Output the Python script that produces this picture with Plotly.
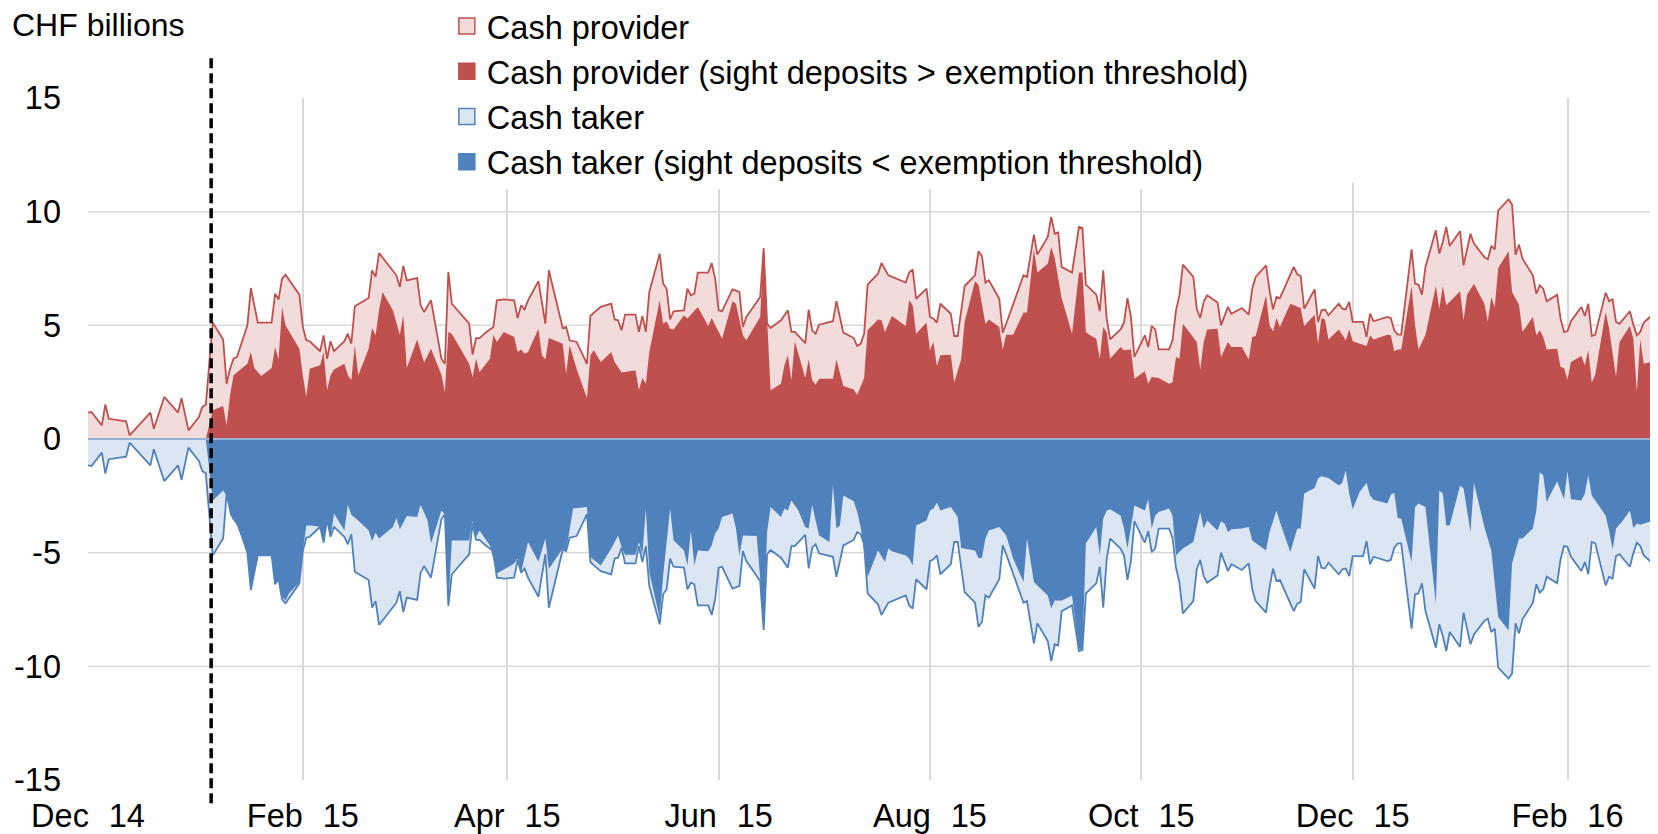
import plotly.graph_objects as go

# Repo volume traded (CHF billions); cash taken mirrors cash provided
provider_dates = [
    "2014-12-01", "2014-12-02", "2014-12-05", "2014-12-06", "2014-12-07", "2014-12-12", "2014-12-13",
    "2014-12-19", "2014-12-20", "2014-12-23", "2014-12-27", "2014-12-28", "2014-12-30", "2015-01-02",
    "2015-01-03", "2015-01-04", "2015-01-06", "2015-01-09", "2015-01-10", "2015-01-11", "2015-01-12",
    "2015-01-13", "2015-01-16", "2015-01-17", "2015-01-19", "2015-01-23", "2015-01-24", "2015-01-25",
    "2015-01-26", "2015-01-27", "2015-01-31", "2015-02-01", "2015-02-02", "2015-02-03", "2015-02-06",
    "2015-02-07", "2015-02-08", "2015-02-09", "2015-02-10", "2015-02-13", "2015-02-14", "2015-02-15",
    "2015-02-16", "2015-02-20", "2015-02-21", "2015-02-22", "2015-02-23", "2015-02-28", "2015-03-01",
    "2015-03-02", "2015-03-03", "2015-03-06", "2015-03-07", "2015-03-08", "2015-03-10", "2015-03-13",
    "2015-03-14", "2015-03-15", "2015-03-16", "2015-03-21", "2015-03-22", "2015-03-23", "2015-03-24",
    "2015-03-26", "2015-03-28", "2015-03-29", "2015-03-31", "2015-04-03", "2015-04-04", "2015-04-05",
    "2015-04-06", "2015-04-07", "2015-04-10", "2015-04-11", "2015-04-12", "2015-04-13", "2015-04-17",
    "2015-04-18", "2015-04-19", "2015-04-21", "2015-04-24", "2015-04-25", "2015-04-26", "2015-04-28",
    "2015-05-01", "2015-05-02", "2015-05-03", "2015-05-04", "2015-05-05", "2015-05-08", "2015-05-09",
    "2015-05-10", "2015-05-11", "2015-05-12", "2015-05-15", "2015-05-16", "2015-05-17", "2015-05-18",
    "2015-05-19", "2015-05-22", "2015-05-23", "2015-05-24", "2015-05-25", "2015-05-26", "2015-05-29",
    "2015-05-30", "2015-05-31", "2015-06-01", "2015-06-02", "2015-06-05", "2015-06-07", "2015-06-08",
    "2015-06-09", "2015-06-13", "2015-06-14", "2015-06-15", "2015-06-16", "2015-06-19", "2015-06-21",
    "2015-06-22", "2015-06-23", "2015-06-26", "2015-06-27", "2015-06-28", "2015-06-29", "2015-06-30",
    "2015-07-04", "2015-07-05", "2015-07-07", "2015-07-10", "2015-07-11", "2015-07-12", "2015-07-13",
    "2015-07-14", "2015-07-17", "2015-07-18", "2015-07-20", "2015-07-25", "2015-07-26", "2015-07-27",
    "2015-07-28", "2015-07-31", "2015-08-01", "2015-08-02", "2015-08-03", "2015-08-04", "2015-08-07",
    "2015-08-08", "2015-08-09", "2015-08-11", "2015-08-14", "2015-08-15", "2015-08-16", "2015-08-17",
    "2015-08-18", "2015-08-21", "2015-08-22", "2015-08-23", "2015-08-28", "2015-08-29", "2015-08-31",
    "2015-09-01", "2015-09-04", "2015-09-05", "2015-09-06", "2015-09-07", "2015-09-08", "2015-09-11",
    "2015-09-13", "2015-09-14", "2015-09-15", "2015-09-18", "2015-09-19", "2015-09-20", "2015-09-21",
    "2015-09-22", "2015-09-25", "2015-09-26", "2015-09-27", "2015-09-28", "2015-09-29", "2015-10-02",
    "2015-10-03", "2015-10-04", "2015-10-05", "2015-10-06", "2015-10-09", "2015-10-10", "2015-10-11",
    "2015-10-12", "2015-10-13", "2015-10-16", "2015-10-17", "2015-10-18", "2015-10-19", "2015-10-20",
    "2015-10-23", "2015-10-24", "2015-10-26", "2015-10-27", "2015-10-30", "2015-11-01", "2015-11-02",
    "2015-11-03", "2015-11-06", "2015-11-07", "2015-11-08", "2015-11-09", "2015-11-10", "2015-11-14",
    "2015-11-15", "2015-11-16", "2015-11-17", "2015-11-20", "2015-11-21", "2015-11-22", "2015-11-23",
    "2015-11-24", "2015-11-27", "2015-11-28", "2015-11-29", "2015-11-30", "2015-12-01", "2015-12-04",
    "2015-12-05", "2015-12-06", "2015-12-07", "2015-12-11", "2015-12-12", "2015-12-13", "2015-12-14",
    "2015-12-15", "2015-12-18", "2015-12-19", "2015-12-20", "2015-12-21", "2015-12-22", "2015-12-25",
    "2015-12-26", "2015-12-27", "2015-12-28", "2015-12-29", "2016-01-01", "2016-01-02", "2016-01-04",
    "2016-01-05", "2016-01-08", "2016-01-09", "2016-01-10", "2016-01-11", "2016-01-12", "2016-01-15",
    "2016-01-16", "2016-01-17", "2016-01-18", "2016-01-19", "2016-01-22", "2016-01-23", "2016-01-24",
    "2016-01-25", "2016-01-26", "2016-01-29", "2016-01-30", "2016-01-31", "2016-02-01", "2016-02-02",
    "2016-02-05", "2016-02-06", "2016-02-07", "2016-02-08", "2016-02-09", "2016-02-12", "2016-02-13",
    "2016-02-14", "2016-02-15", "2016-02-16", "2016-02-19", "2016-02-20", "2016-02-21", "2016-02-22",
    "2016-02-23", "2016-02-27",
]
provider_total = [
    1.16, 1.19, 0.60, 1.52, 0.89, 0.78, 0.16,
    1.16, 0.45, 1.85, 1.16, 1.80, 0.38, 0.97,
    1.41, 1.51, 5.12, 4.38, 2.43, 3.09, 3.53,
    3.61, 5.00, 6.64, 5.12, 5.12, 6.39, 6.14,
    7.05, 7.23, 6.35, 4.93, 4.34, 4.30, 3.86,
    4.56, 3.53, 4.30, 3.86, 4.30, 4.63, 4.19,
    5.84, 6.20, 7.42, 7.13, 8.18, 7.20, 6.69,
    7.61, 6.98, 7.08, 5.88, 5.59, 6.10, 3.53,
    3.31, 7.35, 5.95, 5.07, 3.71, 4.44, 4.44,
    4.71, 4.93, 6.10, 6.14, 6.10, 5.32, 5.88,
    5.70, 6.10, 6.94, 5.95, 5.07, 7.42, 4.88,
    4.93, 4.34, 4.27, 3.31, 5.41, 5.56, 5.81,
    5.95, 5.26, 5.22, 4.78, 5.47, 5.47, 4.71,
    5.41, 4.71, 6.47, 8.15, 6.83, 6.61, 5.26,
    5.62, 5.66, 6.61, 6.32, 6.39, 7.32, 7.32,
    7.74, 7.05, 5.66, 5.62, 6.58, 6.47, 4.93,
    5.37, 6.25, 8.40, 5.07, 4.88, 5.22, 5.66,
    4.71, 4.71, 4.22, 5.69, 4.78, 4.63, 5.03,
    5.18, 6.06, 4.68, 4.44, 4.09, 4.19, 4.63,
    6.79, 7.27, 7.74, 7.20, 6.88, 7.32, 7.46,
    6.17, 6.61, 5.37, 5.29, 5.12, 5.95, 5.51,
    4.53, 4.53, 6.73, 7.20, 8.26, 8.05, 6.88,
    6.98, 6.17, 4.68, 5.07, 7.20, 7.13, 8.99,
    8.11, 8.89, 9.77, 9.03, 9.08, 7.57, 7.32,
    9.33, 9.28, 6.79, 6.35, 5.62, 7.42, 5.29,
    4.38, 4.82, 5.12, 6.20, 5.37, 3.61, 4.56,
    4.05, 4.97, 4.82, 3.94, 3.94, 4.34, 5.66,
    6.32, 7.67, 7.13, 5.73, 5.32, 6.03, 6.32,
    6.00, 5.00, 5.81, 5.51, 5.76, 5.47, 6.61,
    7.13, 7.64, 6.54, 5.70, 6.25, 6.20, 7.57,
    7.24, 7.17, 5.73, 6.58, 5.15, 5.66, 5.70,
    5.44, 5.95, 5.73, 5.70, 6.03, 5.15, 5.15,
    4.49, 5.51, 5.18, 5.37, 5.32, 4.78, 4.59,
    4.59, 8.34, 6.83, 6.79, 6.35, 7.57, 9.18,
    8.15, 8.67, 9.33, 8.49, 9.15, 7.64, 9.03,
    8.60, 8.00, 7.90, 8.49, 8.34, 10.06, 10.54,
    10.31, 8.11, 8.55, 7.93, 7.20, 6.39, 6.76,
    6.61, 6.06, 6.35, 5.29, 4.71, 4.74, 5.18,
    5.81, 5.41, 5.95, 4.53, 4.59, 6.44, 6.06,
    6.14, 5.15, 5.07, 5.62, 5.03, 4.56, 4.71,
    5.12, 5.66,
]
taker_total = [-v for v in provider_total]

# Cash provider with sight deposits above the exemption threshold
above_dates = [
    "2015-01-04", "2015-01-06", "2015-01-09", "2015-01-10", "2015-01-11", "2015-01-12", "2015-01-16",
    "2015-01-17", "2015-01-18", "2015-01-20", "2015-01-23", "2015-01-24", "2015-01-25", "2015-01-26",
    "2015-01-27", "2015-01-31", "2015-02-01", "2015-02-02", "2015-02-03", "2015-02-06", "2015-02-07",
    "2015-02-08", "2015-02-09", "2015-02-10", "2015-02-13", "2015-02-14", "2015-02-15", "2015-02-16",
    "2015-02-17", "2015-02-20", "2015-02-21", "2015-02-22", "2015-02-23", "2015-02-24", "2015-02-27",
    "2015-03-01", "2015-03-02", "2015-03-03", "2015-03-06", "2015-03-08", "2015-03-10", "2015-03-13",
    "2015-03-14", "2015-03-15", "2015-03-16", "2015-03-21", "2015-03-22", "2015-03-23", "2015-03-24",
    "2015-03-27", "2015-03-28", "2015-03-29", "2015-03-31", "2015-04-03", "2015-04-04", "2015-04-05",
    "2015-04-06", "2015-04-07", "2015-04-10", "2015-04-11", "2015-04-12", "2015-04-13", "2015-04-17",
    "2015-04-18", "2015-04-19", "2015-04-21", "2015-04-24", "2015-04-25", "2015-04-26", "2015-04-28",
    "2015-05-01", "2015-05-02", "2015-05-04", "2015-05-08", "2015-05-09", "2015-05-10", "2015-05-11",
    "2015-05-12", "2015-05-15", "2015-05-16", "2015-05-17", "2015-05-18", "2015-05-19", "2015-05-22",
    "2015-05-23", "2015-05-25", "2015-05-26", "2015-05-29", "2015-05-30", "2015-06-02", "2015-06-05",
    "2015-06-06", "2015-06-08", "2015-06-09", "2015-06-13", "2015-06-14", "2015-06-16", "2015-06-19",
    "2015-06-20", "2015-06-21", "2015-06-22", "2015-06-23", "2015-06-26", "2015-06-27", "2015-06-28",
    "2015-06-29", "2015-06-30", "2015-07-04", "2015-07-05", "2015-07-07", "2015-07-10", "2015-07-11",
    "2015-07-13", "2015-07-14", "2015-07-17", "2015-07-18", "2015-07-19", "2015-07-21", "2015-07-25",
    "2015-07-26", "2015-07-27", "2015-07-28", "2015-07-31", "2015-08-01", "2015-08-02", "2015-08-03",
    "2015-08-04", "2015-08-07", "2015-08-08", "2015-08-10", "2015-08-11", "2015-08-14", "2015-08-15",
    "2015-08-17", "2015-08-18", "2015-08-21", "2015-08-22", "2015-08-23", "2015-08-25", "2015-08-28",
    "2015-08-29", "2015-08-31", "2015-09-01", "2015-09-04", "2015-09-05", "2015-09-06", "2015-09-08",
    "2015-09-11", "2015-09-13", "2015-09-14", "2015-09-15", "2015-09-16", "2015-09-18", "2015-09-19",
    "2015-09-20", "2015-09-21", "2015-09-22", "2015-09-25", "2015-09-26", "2015-09-28", "2015-09-29",
    "2015-10-02", "2015-10-03", "2015-10-04", "2015-10-06", "2015-10-09", "2015-10-10", "2015-10-11",
    "2015-10-12", "2015-10-13", "2015-10-17", "2015-10-18", "2015-10-19", "2015-10-20", "2015-10-23",
    "2015-10-24", "2015-10-26", "2015-10-27", "2015-10-30", "2015-11-01", "2015-11-02", "2015-11-03",
    "2015-11-06", "2015-11-07", "2015-11-08", "2015-11-09", "2015-11-10", "2015-11-13", "2015-11-14",
    "2015-11-16", "2015-11-17", "2015-11-20", "2015-11-21", "2015-11-22", "2015-11-23", "2015-11-24",
    "2015-11-27", "2015-11-28", "2015-11-29", "2015-11-30", "2015-12-01", "2015-12-05", "2015-12-06",
    "2015-12-07", "2015-12-11", "2015-12-12", "2015-12-13", "2015-12-14", "2015-12-15", "2015-12-18",
    "2015-12-19", "2015-12-20", "2015-12-22", "2015-12-25", "2015-12-26", "2015-12-27", "2015-12-28",
    "2016-01-01", "2016-01-02", "2016-01-03", "2016-01-05", "2016-01-08", "2016-01-09", "2016-01-10",
    "2016-01-11", "2016-01-12", "2016-01-15", "2016-01-16", "2016-01-18", "2016-01-19", "2016-01-22",
    "2016-01-23", "2016-01-24", "2016-01-25", "2016-01-26", "2016-01-29", "2016-01-30", "2016-01-31",
    "2016-02-01", "2016-02-02", "2016-02-05", "2016-02-06", "2016-02-07", "2016-02-08", "2016-02-09",
    "2016-02-12", "2016-02-13", "2016-02-15", "2016-02-16", "2016-02-19", "2016-02-20", "2016-02-21",
    "2016-02-22", "2016-02-23", "2016-02-27",
]
provider_above = [
    0.00, 1.26, 1.45, 0.60, 1.92, 2.80, 3.31,
    3.83, 3.12, 2.77, 3.12, 4.05, 3.50, 5.81,
    5.00, 3.97, 2.80, 1.85, 3.09, 3.24, 3.83,
    2.14, 2.80, 3.06, 3.31, 2.80, 2.58, 4.12,
    2.80, 3.97, 4.88, 4.56, 5.66, 6.47, 5.66,
    4.59, 5.44, 3.12, 4.38, 3.36, 3.97, 2.83,
    2.07, 4.71, 4.63, 3.31, 2.73, 3.53, 2.95,
    3.53, 4.59, 4.27, 4.71, 4.49, 3.83, 3.94,
    3.75, 3.83, 4.85, 3.68, 3.50, 4.44, 4.19,
    2.87, 4.12, 3.09, 1.80, 3.68, 3.90, 3.39,
    3.83, 3.39, 2.92, 3.02, 2.14, 2.68, 2.43,
    3.83, 6.10, 5.07, 5.18, 4.85, 4.82, 5.44,
    5.30, 5.66, 5.81, 4.97, 5.32, 4.41, 6.06,
    5.95, 4.56, 4.34, 5.37, 8.37, 2.14, 2.43,
    3.24, 3.68, 2.58, 4.30, 2.68, 3.50, 2.58,
    2.39, 2.65, 2.65, 3.50, 2.33, 2.18, 1.95,
    2.68, 4.78, 5.26, 5.22, 4.71, 5.41, 4.97,
    6.10, 5.88, 4.63, 5.12, 3.90, 4.27, 3.21,
    3.68, 3.71, 2.48, 3.50, 5.15, 6.94, 6.79,
    5.07, 5.26, 4.93, 3.94, 4.59, 4.59, 5.56,
    5.56, 8.34, 7.32, 7.71, 8.45, 7.96, 6.20,
    4.63, 7.32, 7.32, 4.71, 4.59, 4.41, 3.53,
    4.93, 4.68, 3.53, 4.05, 3.90, 3.94, 2.65,
    2.98, 2.43, 2.73, 2.68, 2.43, 2.48, 3.61,
    3.53, 5.07, 4.27, 3.06, 4.27, 4.82, 4.85,
    3.61, 4.27, 4.05, 4.05, 3.50, 4.49, 4.53,
    6.32, 5.00, 4.74, 5.32, 4.93, 5.95, 5.88,
    5.76, 4.97, 5.47, 4.19, 5.32, 5.26, 4.38,
    4.82, 4.56, 4.34, 4.82, 4.30, 4.09, 4.56,
    4.38, 4.59, 4.56, 3.86, 3.94, 3.94, 6.73,
    5.00, 3.94, 4.59, 6.73, 5.73, 6.73, 5.88,
    6.50, 5.22, 6.35, 6.83, 5.95, 5.18, 6.25,
    5.81, 7.52, 8.26, 6.47, 5.91, 4.71, 5.37,
    4.56, 4.78, 4.49, 3.94, 3.97, 3.17, 3.12,
    2.62, 3.39, 3.65, 3.24, 3.90, 2.48, 2.83,
    5.59, 4.85, 2.73, 4.27, 4.97, 4.41, 2.07,
    4.38, 3.31, 3.46,
]

# Cash taker with sight deposits below the exemption threshold
below_dates = [
    "2015-01-04", "2015-01-06", "2015-01-09", "2015-01-10", "2015-01-11", "2015-01-13", "2015-01-16",
    "2015-01-17", "2015-01-19", "2015-01-23", "2015-01-24", "2015-01-25", "2015-01-26", "2015-01-27",
    "2015-01-28", "2015-01-31", "2015-02-01", "2015-02-02", "2015-02-03", "2015-02-06", "2015-02-07",
    "2015-02-08", "2015-02-09", "2015-02-10", "2015-02-13", "2015-02-14", "2015-02-15", "2015-02-17",
    "2015-02-20", "2015-02-21", "2015-02-22", "2015-02-23", "2015-02-27", "2015-02-28", "2015-03-01",
    "2015-03-03", "2015-03-06", "2015-03-07", "2015-03-09", "2015-03-10", "2015-03-13", "2015-03-14",
    "2015-03-15", "2015-03-16", "2015-03-21", "2015-03-22", "2015-03-23", "2015-03-24", "2015-03-27",
    "2015-03-29", "2015-04-03", "2015-04-04", "2015-04-05", "2015-04-07", "2015-04-10", "2015-04-12",
    "2015-04-13", "2015-04-17", "2015-04-18", "2015-04-19", "2015-04-20", "2015-04-24", "2015-04-25",
    "2015-04-28", "2015-05-01", "2015-05-03", "2015-05-04", "2015-05-05", "2015-05-08", "2015-05-09",
    "2015-05-10", "2015-05-11", "2015-05-12", "2015-05-15", "2015-05-16", "2015-05-18", "2015-05-19",
    "2015-05-21", "2015-05-22", "2015-05-23", "2015-05-24", "2015-05-25", "2015-05-26", "2015-05-29",
    "2015-05-30", "2015-05-31", "2015-06-01", "2015-06-02", "2015-06-05", "2015-06-06", "2015-06-07",
    "2015-06-08", "2015-06-12", "2015-06-13", "2015-06-14", "2015-06-15", "2015-06-16", "2015-06-19",
    "2015-06-20", "2015-06-21", "2015-06-22", "2015-06-24", "2015-06-26", "2015-06-27", "2015-06-28",
    "2015-06-29", "2015-06-30", "2015-07-03", "2015-07-04", "2015-07-05", "2015-07-06", "2015-07-07",
    "2015-07-10", "2015-07-11", "2015-07-12", "2015-07-14", "2015-07-17", "2015-07-19", "2015-07-20",
    "2015-07-21", "2015-07-25", "2015-07-26", "2015-07-27", "2015-07-28", "2015-07-31", "2015-08-01",
    "2015-08-02", "2015-08-03", "2015-08-04", "2015-08-07", "2015-08-09", "2015-08-10", "2015-08-14",
    "2015-08-15", "2015-08-16", "2015-08-17", "2015-08-18", "2015-08-21", "2015-08-23", "2015-08-25",
    "2015-08-28", "2015-08-29", "2015-08-31", "2015-09-01", "2015-09-04", "2015-09-05", "2015-09-06",
    "2015-09-08", "2015-09-11", "2015-09-13", "2015-09-14", "2015-09-15", "2015-09-18", "2015-09-19",
    "2015-09-20", "2015-09-21", "2015-09-22", "2015-09-25", "2015-09-26", "2015-09-27", "2015-09-29",
    "2015-10-02", "2015-10-03", "2015-10-04", "2015-10-05", "2015-10-06", "2015-10-09", "2015-10-10",
    "2015-10-11", "2015-10-13", "2015-10-16", "2015-10-18", "2015-10-19", "2015-10-20", "2015-10-23",
    "2015-10-24", "2015-10-25", "2015-10-26", "2015-10-27", "2015-10-30", "2015-11-01", "2015-11-02",
    "2015-11-06", "2015-11-07", "2015-11-09", "2015-11-10", "2015-11-13", "2015-11-15", "2015-11-16",
    "2015-11-17", "2015-11-20", "2015-11-21", "2015-11-22", "2015-11-24", "2015-11-27", "2015-11-28",
    "2015-11-29", "2015-11-30", "2015-12-01", "2015-12-03", "2015-12-05", "2015-12-06", "2015-12-07",
    "2015-12-11", "2015-12-12", "2015-12-13", "2015-12-14", "2015-12-15", "2015-12-18", "2015-12-19",
    "2015-12-20", "2015-12-22", "2015-12-25", "2015-12-26", "2015-12-27", "2015-12-28", "2015-12-29",
    "2016-01-01", "2016-01-02", "2016-01-04", "2016-01-05", "2016-01-08", "2016-01-10", "2016-01-12",
    "2016-01-15", "2016-01-16", "2016-01-18", "2016-01-19", "2016-01-22", "2016-01-23", "2016-01-24",
    "2016-01-25", "2016-01-26", "2016-01-29", "2016-01-31", "2016-02-01", "2016-02-02", "2016-02-05",
    "2016-02-06", "2016-02-07", "2016-02-08", "2016-02-12", "2016-02-13", "2016-02-14", "2016-02-15",
    "2016-02-17", "2016-02-19", "2016-02-20", "2016-02-21", "2016-02-22", "2016-02-26", "2016-02-27",
]
taker_below = [
    0.00, -2.70, -2.26, -2.48, -3.33, -3.80, -5.00,
    -6.64, -5.12, -5.12, -6.39, -6.14, -6.95, -7.10,
    -6.80, -6.30, -4.93, -3.80, -3.80, -3.86, -4.56,
    -3.53, -4.30, -3.28, -4.02, -2.89, -3.33, -3.58,
    -4.02, -4.50, -4.12, -4.38, -3.87, -3.48, -3.97,
    -3.39, -3.43, -2.89, -3.58, -4.60, -3.14, -3.31,
    -7.35, -4.46, -4.46, -3.62, -4.31, -4.02, -4.68,
    -5.92, -5.48, -5.26, -5.85, -4.53, -5.40, -4.38,
    -5.72, -4.82, -4.93, -4.02, -3.06, -2.99, -5.19,
    -5.56, -4.82, -4.24, -4.75, -5.09, -5.09, -4.53,
    -5.09, -3.06, -5.85, -7.90, -6.00, -3.06, -4.46,
    -4.75, -4.90, -5.56, -4.02, -5.56, -4.90, -4.94,
    -4.68, -4.16, -3.94, -3.43, -3.28, -3.94, -5.12,
    -4.24, -4.27, -6.14, -8.34, -4.09, -2.99, -3.43,
    -3.06, -3.14, -2.70, -3.14, -3.87, -3.94, -2.89,
    -3.58, -4.24, -4.53, -2.01, -3.94, -3.80, -2.48,
    -2.74, -3.21, -3.87, -6.07, -4.90, -5.41, -4.82,
    -4.94, -5.12, -5.26, -5.56, -3.80, -3.58, -3.14,
    -3.06, -2.80, -3.14, -2.99, -3.43, -4.79, -4.90,
    -5.23, -5.23, -4.38, -4.02, -3.87, -4.24, -5.26,
    -6.29, -4.38, -6.29, -6.44, -6.88, -7.46, -7.10,
    -7.10, -6.88, -9.22, -9.28, -4.60, -3.87, -5.12,
    -3.50, -3.14, -3.09, -3.36, -3.94, -4.82, -2.92,
    -3.14, -2.65, -3.94, -3.36, -3.21, -3.06, -3.36,
    -5.12, -4.82, -4.53, -3.21, -3.94, -3.58, -4.02,
    -3.62, -3.72, -4.09, -3.97, -3.94, -3.87, -4.46,
    -4.90, -4.09, -3.14, -3.65, -4.97, -3.94, -3.94,
    -2.40, -2.16, -1.74, -1.64, -1.72, -2.04, -1.92,
    -1.38, -2.40, -3.09, -2.33, -1.92, -2.48, -2.67,
    -2.84, -2.45, -2.36, -3.48, -3.50, -5.41, -2.99,
    -2.84, -2.99, -7.24, -2.26, -2.40, -3.80, -3.80,
    -2.04, -2.18, -4.09, -1.92, -3.87, -4.90, -7.83,
    -8.42, -5.48, -4.38, -4.38, -3.94, -3.14, -1.45,
    -1.60, -2.77, -1.86, -2.65, -1.42, -2.65, -2.70,
    -2.40, -1.60, -2.48, -3.36, -4.02, -4.85, -3.94,
    -3.58, -3.14, -3.92, -3.72, -3.77, -3.58, -4.38,
]

policy_date = "2015-01-05 13:00"

RED = "#C0504D"
PINK = "#F2DCDB"
BLUE = "#4F81BD"
LIGHT_BLUE = "#DCE6F2"
GRID = "#D9D9D9"
FONT = "Liberation Sans, Arial, sans-serif"

fig = go.Figure()

# filled areas (legend is drawn with separate square markers)
fig.add_trace(go.Scatter(x=provider_dates, y=provider_total, mode="lines", fill="tozeroy",
                         fillcolor=PINK, line=dict(width=0), showlegend=False, hoverinfo="skip"))
fig.add_trace(go.Scatter(x=above_dates, y=provider_above, mode="lines", fill="tozeroy",
                         fillcolor=RED, line=dict(width=0), showlegend=False, hoverinfo="skip"))
fig.add_trace(go.Scatter(x=provider_dates, y=taker_total, mode="lines", fill="tozeroy",
                         fillcolor=LIGHT_BLUE, line=dict(width=0), showlegend=False, hoverinfo="skip"))
fig.add_trace(go.Scatter(x=below_dates, y=taker_below, mode="lines", fill="tozeroy",
                         fillcolor=BLUE, line=dict(width=0), showlegend=False, hoverinfo="skip"))
# outlines of the totals on top
fig.add_trace(go.Scatter(x=provider_dates, y=provider_total, mode="lines",
                         line=dict(color=RED, width=1.8), showlegend=False, hoverinfo="skip"))
fig.add_trace(go.Scatter(x=provider_dates, y=taker_total, mode="lines",
                         line=dict(color=BLUE, width=1.8), showlegend=False, hoverinfo="skip"))

legend_items = [
    ("Cash provider", PINK, RED),
    ("Cash provider (sight deposits > exemption threshold)", RED, RED),
    ("Cash taker", LIGHT_BLUE, BLUE),
    ("Cash taker (sight deposits < exemption threshold)", BLUE, BLUE),
]
for name, fill, edge in legend_items:
    fig.add_trace(go.Scatter(x=[None], y=[None], mode="markers", name=name,
                             marker=dict(symbol="square", size=16, color=fill,
                                         line=dict(color=edge, width=1.5))))

# horizontal grid (no lines at the +-15 edges)
for v in [-10, -5, 5, 10]:
    fig.add_hline(y=v, line_color=GRID, line_width=1.5, layer="below")
fig.add_hline(y=0, line_color="#95B3D7", line_width=2, layer="above")

# hide vertical grid behind the legend block
fig.add_shape(type="rect", xref="paper", yref="paper", x0=0.225, x1=0.84, y0=0.876, y1=1.0,
              fillcolor="white", line_width=0, layer="above")

fig.add_shape(type="line", xref="x", yref="paper", x0=policy_date, x1=policy_date,
              y0=-0.034, y1=1.065, line=dict(color="black", width=3.5, dash="10px,5px"),
              layer="above")

fig.add_annotation(text="CHF billions", xref="paper", yref="paper", x=-0.050, y=1.107,
                   xanchor="left", yanchor="middle", showarrow=False,
                   font=dict(size=32, family=FONT, color="black"))

# the page adds an 8px body margin, so the figure is 8px smaller than the window
fig.update_layout(
    width=1650, height=826,
    margin=dict(l=80, r=3, t=90, b=54, autoexpand=False),
    plot_bgcolor="white", paper_bgcolor="white",
    font=dict(family=FONT, size=32.5, color="black"),
    legend=dict(x=0.229, y=1.146, xanchor="left", yanchor="top", bgcolor="white",
                font=dict(size=32.5, family=FONT), tracegroupgap=0),
)
fig.update_xaxes(type="date", range=["2014-12-01", "2016-02-26 06:00"],
                 tick0="2014-12-01", dtick="M2", tickformat="%b\u2004\u00a0%y",
                 showgrid=True, gridcolor=GRID, gridwidth=1.5, ticks="", automargin=False,
                 showline=False, zeroline=False, ticklabelstandoff=13)
fig.update_yaxes(range=[-15, 15], tickvals=[-15, -10, -5, 0, 5, 10, 15],
                 ticktext=["-15", "-10", "-5", "0", "5", "10", "15"], automargin=False,
                 showgrid=False, zeroline=False, ticks="", showline=False,
                 ticklabelstandoff=26)

fig.write_html("out.html")
